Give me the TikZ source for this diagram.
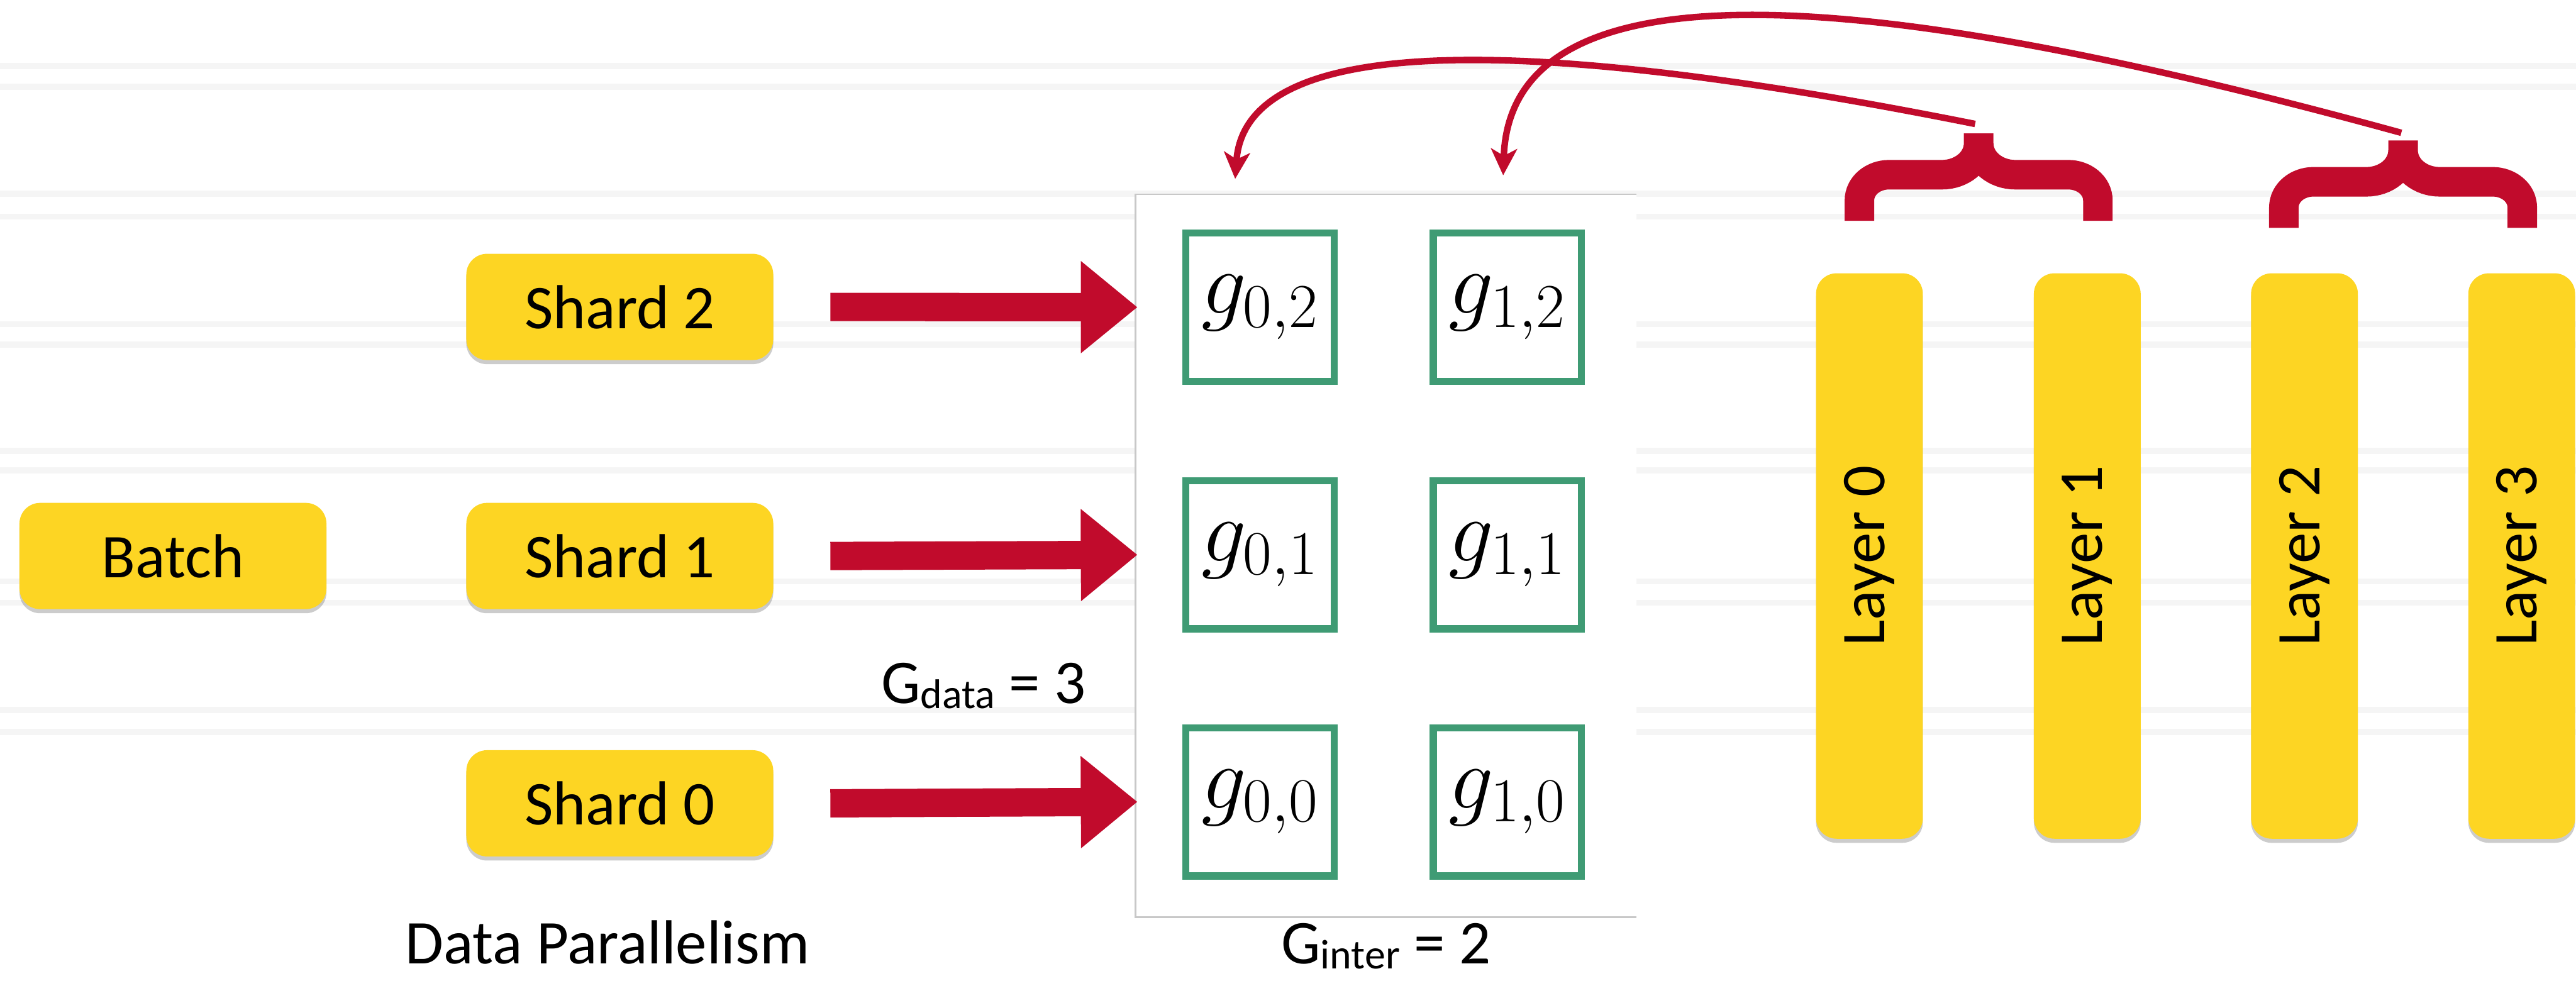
\documentclass[tikz,border=0pt]{standalone}
\usepackage[no-math]{fontspec}
\setmainfont{Carlito}
\usepackage{fix-cm}
\usepackage{xcolor}
\definecolor{shardyellow}{HTML}{FDD523}
\definecolor{arrowred}{HTML}{C10B2C}
\definecolor{gradgreen}{HTML}{3F9B74}
\definecolor{panelgray}{HTML}{C8C8C8}
\definecolor{watermark}{HTML}{F5F5F5}
\usepackage{tikz}
\usetikzlibrary{arrows.meta, shadows}
\newcommand{\gsub}[1]{\raisebox{-0.08cm}{\fontsize{20}{24}\selectfont #1}}

\begin{document}
\begin{tikzpicture}[
  shard/.style={
    fill=shardyellow, rounded corners=0.35cm,
    minimum width=5.2cm, minimum height=1.8cm,
    font=\fontsize{30}{36}\selectfont,
    drop shadow={shadow xshift=0cm, shadow yshift=-0.07cm, opacity=0.2, fill=black}
  },
  layer/.style={
    shard, minimum width=1.81cm, minimum height=9.58cm, inner sep=0pt
  },
  gradbox/.style={
    draw=gradgreen, line width=0.12cm, fill=white,
    minimum width=2.51cm, minimum height=2.51cm, inner sep=0pt,
    font=\fontsize{43}{48}\selectfont
  },
  blockarrow/.style={-{Triangle[length=0.96cm, width=1.5cm]}, line width=0.48cm, arrowred},
  bendarrow/.style={-{Stealth[length=0.45cm, width=0.44cm, inset=0.12cm]}, line width=0.11cm, arrowred},
  brace/.style={line width=0.5cm, arrowred},
  bgline/.style={line width=0.1cm, watermark},
  sumtext/.style={font=\fontsize{30}{36}\selectfont, inner sep=0pt, anchor=base}
]

% ---- Fond ----
\useasboundingbox (0,0) rectangle (43.64,-16.62);
\fill[white] (0,0) rectangle (43.64,-16.62);
\draw[bgline]
  (0,-1.12) -- (43.64,-1.12) (0,-1.47) -- (43.64,-1.47)
  (0,-3.28) -- (43.64,-3.28) (0,-3.67) -- (43.64,-3.67)
  (0,-5.49) -- (43.64,-5.49) (0,-5.84) -- (43.64,-5.84)
  (0,-7.64) -- (43.64,-7.64) (0,-7.97) -- (43.64,-7.97)
  (0,-9.85) -- (43.64,-9.85) (0,-10.21) -- (43.64,-10.21)
  (0,-12.03) -- (43.64,-12.03) (0,-12.40) -- (43.64,-12.40);

% ---- Batch et shards ----
\node[shard] (batch) at (2.93,-9.42) {Batch};
\node[shard] (s2) at (10.50,-5.20) {Shard 2};
\node[shard] (s1) at (10.50,-9.42) {Shard 1};
\node[shard] (s0) at (10.50,-13.61) {Shard 0};

\node[sumtext] (gdata) at (16.66,-11.92) {G\gsub{data} = 3};
\node[sumtext] (dp) at (10.29,-16.33) {Data Parallelism};

% ---- Grille des gradients ----
\node[fill=white, minimum width=8.48cm, minimum height=12.23cm] (panel) at (23.48,-9.415) {};
\draw[panelgray, line width=0.03cm]
  (panel.north east) -- (panel.north west) -- (panel.south west) -- (panel.south east);

\node[gradbox] (g02) at (21.345,-5.205) {$g_{0,2}$};
\node[gradbox] (g12) at (25.535,-5.205) {$g_{1,2}$};
\node[gradbox] (g01) at (21.345,-9.40) {$g_{0,1}$};
\node[gradbox] (g11) at (25.535,-9.40) {$g_{1,1}$};
\node[gradbox] (g00) at (21.345,-13.585) {$g_{0,0}$};
\node[gradbox] (g10) at (25.535,-13.585) {$g_{1,0}$};

\node[sumtext] (ginter) at (23.48,-16.33) {G\gsub{inter} = 2};

% Flèches shard -> gradient
\draw[blockarrow] ([xshift=0.96cm]s2.east) -- ([xshift=-0.76cm]g02.west);
\draw[blockarrow] ([xshift=0.96cm]s1.east) -- ([xshift=-0.76cm]g01.west);
\draw[blockarrow] ([xshift=0.96cm]s0.east) -- ([xshift=-0.76cm]g00.west);

% ---- Couches ----
\node[layer] (l0) at (31.67,-9.42) {\rotatebox{90}{Layer 0}};
\node[layer] (l1) at (35.36,-9.42) {\rotatebox{90}{Layer 1}};
\node[layer] (l2) at (39.04,-9.42) {\rotatebox{90}{Layer 2}};
\node[layer] (l3) at (42.72,-9.42) {\rotatebox{90}{Layer 3}};

% Accolades (couches 0-1 et 2-3)
\coordinate (b1tip) at (33.52,-2.26);
\coordinate (b2tip) at (40.71,-2.38);
\draw[brace]
  (31.50,-3.74) -- (31.50,-3.40) to[out=90,in=180] (32.00,-2.96)
  -- (32.90,-2.96) to[out=0,in=-90] (33.52,-2.42) -- (b1tip)
  (35.54,-3.74) -- (35.54,-3.40) to[out=90,in=0] (35.04,-2.96)
  -- (34.14,-2.96) to[out=180,in=-90] (33.52,-2.42) -- (b1tip);
\draw[brace]
  (38.69,-3.86) -- (38.69,-3.52) to[out=90,in=180] (39.19,-3.08)
  -- (40.09,-3.08) to[out=0,in=-90] (40.71,-2.54) -- (b2tip)
  (42.73,-3.86) -- (42.73,-3.52) to[out=90,in=0] (42.23,-3.08)
  -- (41.33,-3.08) to[out=180,in=-90] (40.71,-2.54) -- (b2tip);

% Retour des accolades vers la grille
\draw[bendarrow] ([xshift=-0.06cm, yshift=0.16cm]b1tip)
  .. controls +(-6.0,1.2) and +(0.2,2.83) .. ([xshift=-0.42cm, yshift=0.86cm]g02.north);
\draw[bendarrow] ([xshift=-0.03cm, yshift=0.13cm]b2tip)
  .. controls +(-8.0,2.2) and +(0.13,3.97) .. ([xshift=-0.07cm, yshift=0.92cm]g12.north);

\end{tikzpicture}
\end{document}
